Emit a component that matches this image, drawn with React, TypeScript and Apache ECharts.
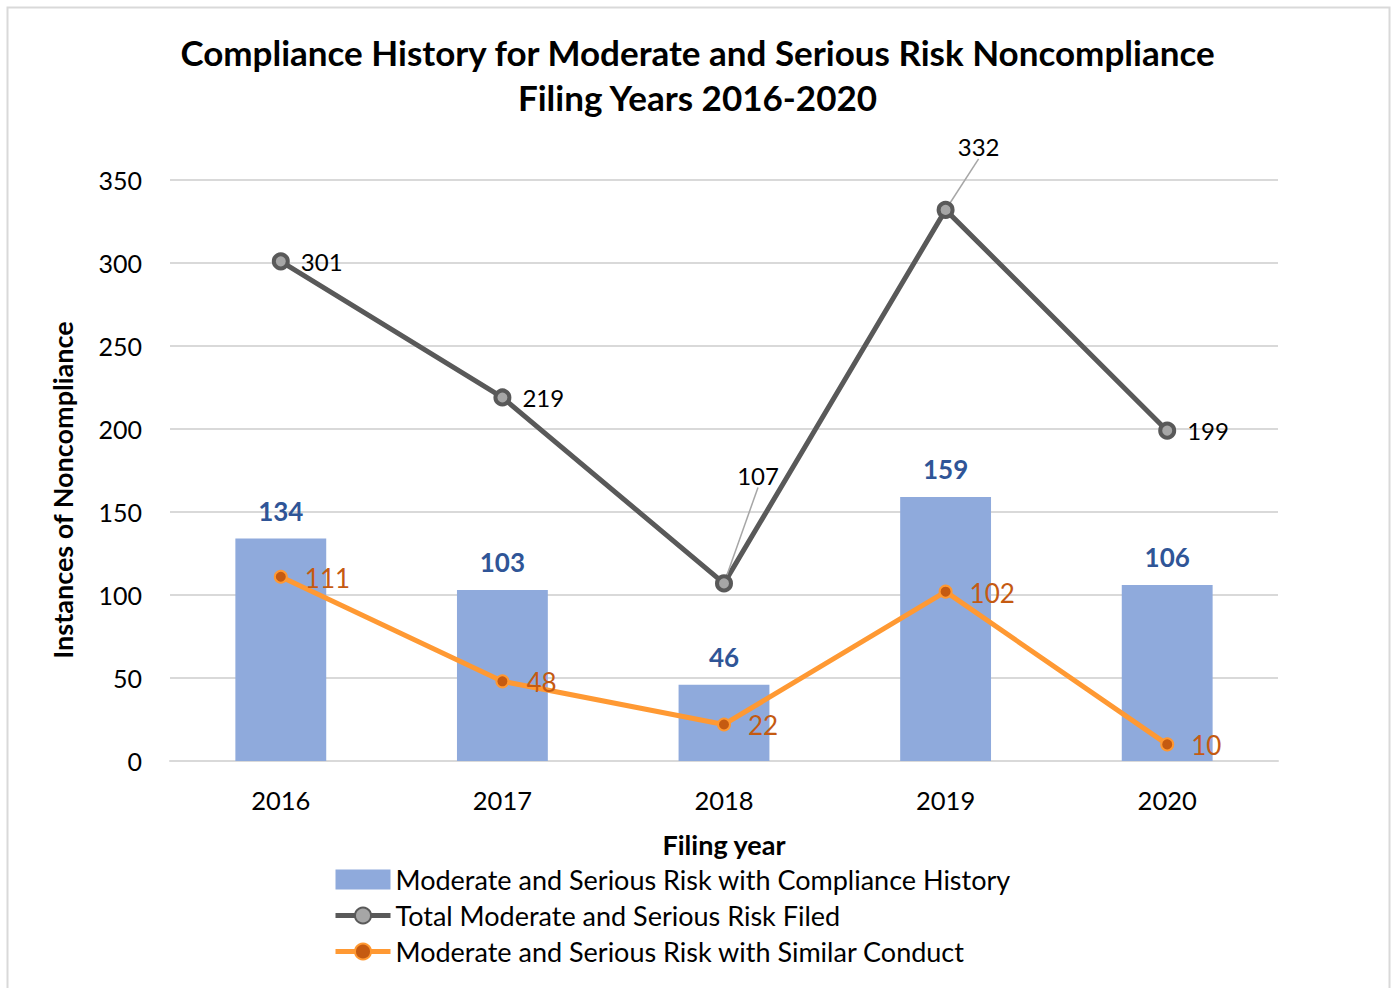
import React, { useEffect, useRef } from "react";
import * as echarts from "echarts";

const categories = ["2016", "2017", "2018", "2019", "2020"];
const complianceHistory = [134, 103, 46, 159, 106];
const totalFiled = [301, 219, 107, 332, 199];
const similarConduct = [111, 48, 22, 102, 10];
const yTicks = [0, 50, 100, 150, 200, 250, 300, 350];

const titleLines = [
  "Compliance History for Moderate and Serious Risk Noncompliance",
  "Filing Years 2016-2020",
];
const seriesNames = [
  "Moderate and Serious Risk with Compliance History",
  "Total Moderate and Serious Risk Filed",
  "Moderate and Serious Risk with Similar Conduct",
];

const FONT = "Lato, 'Open Sans', sans-serif";

export default function App() {
  const ref = useRef<HTMLDivElement>(null);
  useEffect(() => {
    document.body.style.margin = "0";
    const chart = echarts.init(ref.current!, null, { renderer: "svg" });
    const grayLabels: Record<number, any> = {
      0: { position: "right", offset: [0, 1] },
      1: { position: "right", offset: [0, 0] },
      2: { position: "top" },
      3: { position: "top" },
      4: { position: "right", offset: [0, 1] },
    };
    const grayMoves: Record<number, number[]> = {
      2: [34, -76],
      3: [33, -31],
    };
    const option: any = {
      animation: false,
      textStyle: { fontFamily: FONT },
      title: {
        text: titleLines.join("\n"),
        left: "center",
        top: 24,
        textStyle: {
          fontFamily: FONT,
          fontWeight: "bold",
          fontSize: 35,
          lineHeight: 45,
          color: "#000",
        },
      },
      graphic: [
        {
          type: "rect",
          shape: { x: 7.5, y: 7.5, width: 1382, height: 990 },
          style: { fill: "none", stroke: "#D9D9D9", lineWidth: 2 },
          silent: true,
        },
        {
          type: "text",
          x: 62,
          y: 490,
          rotation: Math.PI / 2,
          style: {
            text: "Instances of Noncompliance",
            fontFamily: FONT,
            fontWeight: "bold",
            fontSize: 27,
            fill: "#000",
            align: "center",
            verticalAlign: "middle",
          },
        },
      ],
      legend: {
        orient: "vertical",
        left: 328,
        top: 861,
        itemGap: 9,
        itemWidth: 55,
        itemHeight: 20,
        textStyle: { fontFamily: FONT, fontSize: 27, color: "#000" },
        data: [
          { name: seriesNames[0], icon: "rect", itemStyle: { color: "#8FAADC" } },
          { name: seriesNames[1], lineStyle: { width: 5 } },
          { name: seriesNames[2], lineStyle: { width: 5 } },
        ],
      },
      grid: { left: 170, right: 117, top: 180, bottom: 227, containLabel: false },
      xAxis: {
        type: "category",
        data: categories,
        name: "Filing year",
        nameLocation: "middle",
        nameGap: 70,
        nameTextStyle: { fontFamily: FONT, fontWeight: "bold", fontSize: 27, color: "#000" },
        axisLine: { lineStyle: { color: "#D9D9D9", width: 2 } },
        axisTick: { show: false },
        axisLabel: { fontFamily: FONT, fontSize: 25.5, color: "#000", margin: 26 },
      },
      yAxis: {
        type: "value",
        min: yTicks[0],
        max: yTicks[yTicks.length - 1],
        interval: 50,
        axisLine: { show: false },
        axisTick: { show: false },
        splitLine: { lineStyle: { color: "#D9D9D9", width: 2 } },
        axisLabel: { fontFamily: FONT, fontSize: 25, color: "#000", margin: 28 },
      },
      series: [
        {
          name: seriesNames[0],
          type: "bar",
          data: complianceHistory,
          barWidth: "41%",
          itemStyle: { color: "#8FAADC" },
          label: {
            show: true,
            position: "top",
            distance: 15,
            fontFamily: FONT,
            fontWeight: "bold",
            fontSize: 26,
            color: "#2F5597",
          },
          z: 1,
        },
        {
          name: seriesNames[1],
          type: "line",
          data: totalFiled.map((v, i) => ({
            value: v,
            label: grayLabels[i],
            labelLine:
              i === 2 || i === 3
                ? { show: true, lineStyle: { color: "#A6A6A6", width: 1.5 } }
                : { show: false },
          })),
          symbol: "circle",
          symbolSize: 14,
          lineStyle: { color: "#595959", width: 5 },
          itemStyle: { color: "#A6A6A6", borderColor: "#595959", borderWidth: 4 },
          label: {
            show: true,
            fontFamily: FONT,
            fontSize: 24,
            color: "#000",
            distance: 11,
          },
          labelLayout: (params: any) => {
            const m = grayMoves[params.dataIndex];
            return m ? { dx: m[0], dy: m[1] } : {};
          },
          labelLine: { show: false, lineStyle: { color: "#A6A6A6", width: 1.5 } },
          z: 3,
        },
        {
          name: seriesNames[2],
          type: "line",
          data: similarConduct,
          symbol: "circle",
          symbolSize: 12,
          lineStyle: { color: "#FF9933", width: 5 },
          itemStyle: { color: "#C55A11", borderColor: "#FF9933", borderWidth: 2 },
          label: {
            show: true,
            position: "right",
            distance: 17,
            offset: [0, 1],
            fontFamily: FONT,
            fontSize: 26,
            color: "#C55A11",
          },
          z: 4,
        },
      ],
    };
    chart.setOption(option);
    return () => chart.dispose();
  }, []);
  return <div ref={ref} style={{ width: 1395, height: 988 }} />;
}
